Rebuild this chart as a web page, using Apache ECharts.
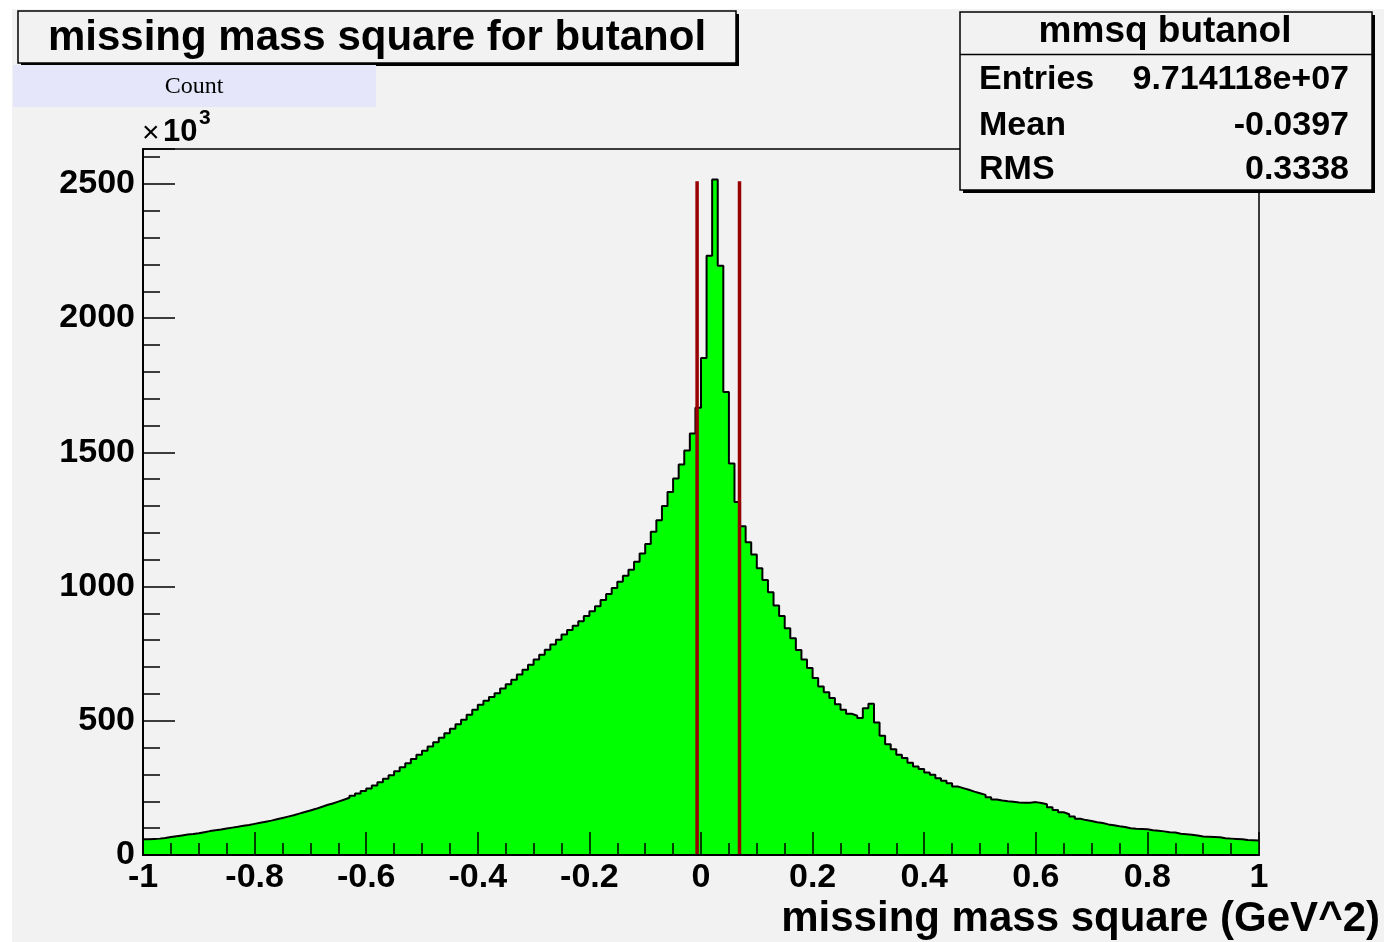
<!DOCTYPE html>
<html><head><meta charset="utf-8">
<script src="https://cdn.jsdelivr.net/npm/echarts@6/dist/echarts.min.js"></script>
<style>html,body{margin:0;padding:0;background:#fff;}#c{width:1384px;height:942px;}</style>
</head><body><div id="c"></div>
<script>
// ---- data ----
const histTitle = 'missing mass square for butanol';
const statsTitle = 'mmsq butanol';
const statsLabels = ['Entries', 'Mean', 'RMS'];
const statsValues = ['9.714118e+07', '-0.0397', '0.3338'];
const xTitle = 'missing mass square (GeV^2)';
const yTitle = 'Count';
const xMin = -1, xMax = 1, binWidth = 0.01;
// counts per bin, in thousands (x10^3)
const counts = [
  59, 60, 61, 63, 67, 70, 73, 76, 78, 81,
  85, 89, 92, 95, 99, 102, 105, 109, 112, 116,
  120, 124, 128, 133, 138, 143, 148, 154, 160, 166,
  172, 179, 186, 192, 199, 206, 213, 221, 229, 238,
  248, 259, 271, 284, 297, 312, 327, 342, 358, 373,
  388, 404, 420, 437, 454, 470, 487, 504, 522, 541,
  560, 575, 589, 603, 620, 636, 653, 672, 690, 709,
  728, 746, 765, 784, 802, 821, 838, 854, 871, 890,
  908, 927, 950, 972, 995, 1018, 1040, 1063, 1092, 1123,
  1159, 1204, 1247, 1300, 1352, 1403, 1455, 1507, 1570, 1666,
  1851, 2232, 2516, 2195, 1725, 1458, 1315, 1225, 1165, 1119,
  1068, 1024, 979, 929, 890, 845, 807, 764, 728, 697,
  659, 628, 606, 585, 562, 541, 526, 519, 510, 547,
  563, 494, 444, 413, 394, 373, 361, 344, 330, 320,
  307, 299, 286, 277, 267, 255, 249, 243, 236, 230,
  224, 215, 207, 203, 200, 198, 196, 195, 195, 197,
  194, 189, 178, 168, 159, 152, 143, 135, 130, 127,
  122, 119, 114, 111, 107, 104, 100, 98, 97, 96,
  92, 90, 88, 85, 84, 79, 77, 75, 73, 69,
  68, 67, 66, 62, 61, 60, 59, 56, 55, 54
];
const cutLines = [-0.007, 0.069];
const cutTop = 2510;
const yMax = 2630;

// ---- build ----
const edges = [];
for (let i = 0; i <= counts.length; i++) edges.push(+(xMin + i * binWidth).toFixed(4));
const stepData = counts.map((v, i) => [edges[i], v]);
stepData.push([xMax, counts[counts.length - 1]]);

const FONT = '"Liberation Sans", Arial, Helvetica, sans-serif';
const chart = echarts.init(document.getElementById('c'));

const cutSeries = cutLines.map(c => ({
  type: 'line', data: [[c, 0], [c, cutTop]], symbol: 'none', silent: true,
  lineStyle: { color: '#990000', width: 3.5 }, z: 5
}));

const option = {
  animation: false,
  backgroundColor: '#f2f2f2',
  grid: { left: 143, right: 125, top: 149, bottom: 87, show: true, borderColor: '#000', borderWidth: 1.5, backgroundColor: 'transparent' },
  xAxis: [
    { type: 'value', min: xMin, max: xMax, interval: 0.2, position: 'bottom', z: 10,
      axisLine: { show: true, onZero: false, lineStyle: { color: '#000', width: 2 } },
      axisTick: { show: true, inside: true, length: 23, lineStyle: { color: '#000', width: 1.5 } },
      axisLabel: { show: true, margin: 6, color: '#000', fontSize: 34, fontWeight: 'bold', fontFamily: FONT,
        formatter: v => String(Math.round(v * 10) / 10) },
      splitLine: { show: false } },
    { type: 'value', min: xMin, max: xMax, interval: 0.05, position: 'bottom', z: 10,
      axisLine: { show: false, onZero: false }, axisTick: { show: true, inside: true, length: 12, lineStyle: { color: '#000', width: 1.5 } },
      axisLabel: { show: false }, splitLine: { show: false } }
  ],
  yAxis: [
    { type: 'value', min: 0, max: yMax, interval: 500, position: 'left', z: 10,
      axisLine: { show: true, onZero: false, lineStyle: { color: '#000', width: 2 } },
      axisTick: { show: true, inside: true, length: 32, lineStyle: { color: '#000', width: 1.5 } },
      axisLabel: { show: true, margin: 8, color: '#000', fontSize: 34, fontWeight: 'bold', fontFamily: FONT,
        padding: [6, 0, 0, 0],
        formatter: v => (v % 500 === 0 ? String(v) : '') },
      splitLine: { show: false } },
    { type: 'value', min: 0, max: yMax, interval: 100, position: 'left', z: 10,
      axisLine: { show: false, onZero: false }, axisTick: { show: true, inside: true, length: 17, lineStyle: { color: '#000', width: 1.5 } },
      axisLabel: { show: false }, splitLine: { show: false } }
  ],
  series: [
    { type: 'line', name: statsTitle, data: stepData, step: 'end', symbol: 'none', z: 2,
      lineStyle: { color: '#000', width: 2 }, areaStyle: { color: '#00ff00', opacity: 1 } },
    ...cutSeries
  ],
  graphic: [
    // white page margins
    { type: 'rect', shape: { x: 0, y: 0, width: 1384, height: 9 }, style: { fill: '#ffffff' }, z: 50 },
    { type: 'rect', shape: { x: 0, y: 0, width: 12, height: 942 }, style: { fill: '#ffffff' }, z: 50 },
    // title box
    { type: 'rect', shape: { x: 21, y: 14, width: 718, height: 52 }, style: { fill: '#000' }, z: 100 },
    { type: 'rect', shape: { x: 18, y: 11, width: 718, height: 52 }, style: { fill: '#f2f2f2', stroke: '#000', lineWidth: 1.5 }, z: 101 },
    { type: 'text', x: 377, y: 38, style: { text: histTitle, font: 'bold 42px ' + FONT, fill: '#000', align: 'center', verticalAlign: 'middle' }, z: 102 },
    // y axis title box (Count)
    { type: 'rect', shape: { x: 13, y: 65, width: 363, height: 42 }, style: { fill: '#e6e6fa' }, z: 100 },
    { type: 'text', x: 194, y: 87, style: { text: yTitle, font: '24px "Liberation Serif", "Times New Roman", serif', fill: '#000', align: 'center', verticalAlign: 'middle' }, z: 101 },
    // exponent x10^3
    { type: 'text', x: 142, y: 134, style: { text: '×', font: '30px ' + FONT, fill: '#000', align: 'left', verticalAlign: 'middle' }, z: 100 },
    { type: 'text', x: 163, y: 132, style: { text: '10', font: 'bold 31px ' + FONT, fill: '#000', align: 'left', verticalAlign: 'middle' }, z: 100 },
    { type: 'text', x: 199, y: 118, style: { text: '3', font: 'bold 21px ' + FONT, fill: '#000', align: 'left', verticalAlign: 'middle' }, z: 100 },
    // x axis title
    { type: 'text', x: 1380, y: 919, style: { text: xTitle, font: 'bold 42px ' + FONT, fill: '#000', align: 'right', verticalAlign: 'middle' }, z: 100 },
    // stats box
    { type: 'rect', shape: { x: 963, y: 15, width: 412, height: 178 }, style: { fill: '#000' }, z: 100 },
    { type: 'rect', shape: { x: 960, y: 12, width: 412, height: 178 }, style: { fill: '#f2f2f2', stroke: '#000', lineWidth: 1.5 }, z: 101 },
    { type: 'line', shape: { x1: 960, y1: 54.5, x2: 1372, y2: 54.5 }, style: { stroke: '#000', lineWidth: 1.5 }, z: 102 },
    { type: 'text', x: 1165, y: 32, style: { text: statsTitle, font: 'bold 37px ' + FONT, fill: '#000', align: 'center', verticalAlign: 'middle' }, z: 102 },
    ...statsLabels.map((t, i) => ({ type: 'text', x: 979, y: [80, 126, 170][i], style: { text: t, font: 'bold 34px ' + FONT, fill: '#000', align: 'left', verticalAlign: 'middle' }, z: 102 })),
    ...statsValues.map((t, i) => ({ type: 'text', x: 1349, y: [80, 126, 170][i], style: { text: t, font: 'bold 34px ' + FONT, fill: '#000', align: 'right', verticalAlign: 'middle' }, z: 102 }))
  ]
};
chart.setOption(option);
</script></body></html>
